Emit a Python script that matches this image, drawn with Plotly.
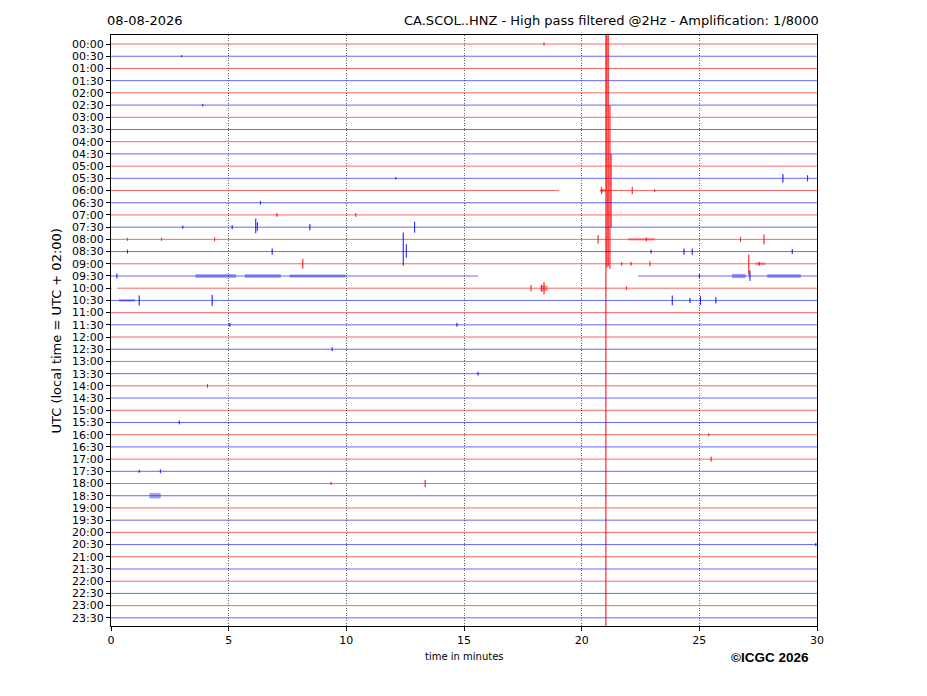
import plotly.graph_objects as go

# ---------------- data ----------------
row_labels = ["00:00", "00:30", "01:00", "01:30", "02:00", "02:30", "03:00", "03:30",
              "04:00", "04:30", "05:00", "05:30", "06:00", "06:30", "07:00", "07:30",
              "08:00", "08:30", "09:00", "09:30", "10:00", "10:30", "11:00", "11:30",
              "12:00", "12:30", "13:00", "13:30", "14:00", "14:30", "15:00", "15:30",
              "16:00", "16:30", "17:00", "17:30", "18:00", "18:30", "19:00", "19:30",
              "20:00", "20:30", "21:00", "21:30", "22:00", "22:30", "23:00", "23:30"]
x_ticks = [0, 5, 10, 15, 20, 25, 30]
minute_span = [0, 30]

# spikes: row index, minute, amplitude up, amplitude down (row-spacing units)
spike_rows =    [0,    1,    5,    11,    11,   11,   12,    12,    12,    12,   12,    12,    12,    12,   12,
                 13,   14,   14,   15,   15,   15,   15,   15,   15,
                 16,   16,   16,   16,   16,   16,   16,
                 17,   17,   17,   17,   17,   17,   17,   17,
                 18,   18,   18,   18,   18,   18,
                 19,   19,   19,
                 20,   20,   20,   20,
                 21,   21,   21,   21,   21,   21,
                 23,   23,   25,   27,   28,   31,   32,   34,   35,   35,   36,   36,   41]
spike_minutes = [18.4, 3.0,  3.9,  28.55, 29.6, 12.1, 20.85, 21.03,  21.07,  21.1, 21.13, 21.2, 21.25, 22.15, 23.1,
                 6.35, 7.05, 10.4, 6.15, 6.22, 12.9, 8.45, 5.15, 3.05,
                 0.7,  2.15, 4.4,  20.7, 22.75, 26.75, 27.75,
                 12.42, 12.55, 6.85, 0.7, 22.95, 24.35, 24.7, 28.95,
                 27.1, 8.15, 22.9, 22.1, 27.55, 21.7,
                 27.15, 0.25, 25.0,
                 18.4, 18.3, 17.85, 21.9,
                 1.2,  4.3,  23.85, 25.05, 24.6, 25.7,
                 5.05, 14.7, 9.4,  15.6, 4.1,  2.9,  25.4, 25.5, 1.2,  2.1,  13.35, 9.35, 29.95]
spike_up =      [0.12, 0.08, 0.1,  0.35,  0.25, 0.1,  0.3,   14.0,  14.0,  14.0,  13.0,  7.0,   3.0,   0.3,  0.12,
                 0.15, 0.15, 0.15, 0.7,  0.4,  0.45, 0.25, 0.15, 0.12,
                 0.12, 0.12, 0.15, 0.35, 0.15, 0.2,  0.4,
                 1.55, 0.6,  0.25, 0.15, 0.15, 0.25, 0.25, 0.2,
                 0.75, 0.4,  0.2,  0.15, 0.15, 0.15,
                 0.45, 0.2,  0.15,
                 0.5,  0.3,  0.25, 0.15,
                 0.4,  0.45, 0.4,  0.35, 0.2,  0.25,
                 0.15, 0.15, 0.15, 0.15, 0.15, 0.15, 0.12, 0.2,  0.12, 0.15, 0.3,  0.12, 0.12]
spike_down =    [0.12, 0.08, 0.1,  0.35,  0.25, 0.1,  0.3,   40.0,  6.3,   5.6,   6.2,   6.4,   3.0,   0.3,  0.12,
                 0.15, 0.15, 0.15, 0.5,  0.3,  0.45, 0.25, 0.15, 0.12,
                 0.12, 0.12, 0.15, 0.35, 0.15, 0.2,  0.4,
                 1.15, 0.5,  0.25, 0.15, 0.15, 0.25, 0.25, 0.2,
                 0.9,  0.4,  0.2,  0.15, 0.15, 0.15,
                 0.4,  0.2,  0.15,
                 0.5,  0.3,  0.25, 0.15,
                 0.4,  0.45, 0.4,  0.35, 0.2,  0.25,
                 0.15, 0.15, 0.15, 0.15, 0.15, 0.15, 0.12, 0.2,  0.12, 0.15, 0.3,  0.12, 0.12]

# bursts of noise: row index, start minute, end minute, half-amplitude
burst_rows =  [12,    16,   18,   19,   19,   19,   19,    19,   20,    21,   37]
burst_start = [20.8,  22.0, 27.4, 3.6,  5.7,  7.6,  26.4,  27.9, 18.25, 0.35, 1.65]
burst_end =   [21.0,  23.1, 27.8, 5.3,  7.2,  9.95, 26.95, 29.3, 18.55, 1.0,  2.1]
burst_amp =   [0.12,  0.07, 0.08, 0.12, 0.12, 0.1,  0.15,  0.12, 0.2,   0.07, 0.2]

# data gaps: row index, start minute, end minute
gap_rows =  [12,    19,   20]
gap_start = [19.04, 15.6, 0.05]
gap_end =   [20.78, 22.4, 0.25]

# ---------------- figure ----------------
RED = "rgba(255,0,0,0.6)"
BLUE = "rgba(0,0,255,0.6)"
RED_FILL = "rgba(255,0,0,0.35)"
BLUE_FILL = "rgba(0,0,255,0.35)"

fig = go.Figure()
for r in range(len(row_labels)):
    color = RED if r % 2 == 0 else BLUE
    feats = []
    for i in range(len(spike_rows)):
        if spike_rows[i] == r:
            feats.append((spike_minutes[i], 0, spike_up[i], spike_down[i]))
    for i in range(len(gap_rows)):
        if gap_rows[i] == r:
            feats.append((gap_start[i], 1, gap_end[i], 0))
    feats.sort()
    xs = [minute_span[0]]
    ys = [r]
    for t, kind, a, b in feats:
        if kind == 0:
            xs += [t, t, t, t]
            ys += [r, r - a, r + b, r]
        else:
            xs += [t, None, a]
            ys += [r, None, r]
    xs.append(minute_span[1])
    ys.append(r)
    fig.add_trace(go.Scatter(x=xs, y=ys, mode="lines",
                             line=dict(color=color, width=1),
                             hoverinfo="skip", showlegend=False))

for i in range(len(burst_rows)):
    r = burst_rows[i]
    fill = RED_FILL if r % 2 == 0 else BLUE_FILL
    fig.add_trace(go.Scatter(
        x=[burst_start[i], burst_end[i], burst_end[i], burst_start[i], burst_start[i]],
        y=[r - burst_amp[i], r - burst_amp[i], r + burst_amp[i], r + burst_amp[i], r - burst_amp[i]],
        mode="lines", fill="toself", fillcolor=fill,
        line=dict(color=fill, width=0.5), hoverinfo="skip", showlegend=False))

FONT = "DejaVu Sans"
fig.update_layout(
    width=927, height=696,
    margin=dict(l=103, r=118, t=27, b=78),
    paper_bgcolor="white", plot_bgcolor="white",
    font=dict(family=FONT, size=11, color="black"),
    xaxis=dict(range=minute_span, tickvals=x_ticks, ticks="outside", ticklen=4,
               tickcolor="black", showline=True, linecolor="black", linewidth=1,
               mirror=True, showgrid=True, gridcolor="rgba(60,60,60,0.8)",
               griddash="1px,1.5px", gridwidth=0.7, zeroline=False,
               tickfont=dict(size=11)),
    yaxis=dict(range=[47.67, -0.74], tickvals=list(range(len(row_labels))),
               ticktext=row_labels, ticks="outside", ticklen=4, tickcolor="black",
               showline=True, linecolor="black", linewidth=1, mirror=True,
               showgrid=False, zeroline=False, tickfont=dict(size=11)),
    annotations=[
        dict(text="08-08-2026", xref="paper", yref="paper", x=-0.009, y=1.0,
             xanchor="left", yanchor="bottom", yshift=5, showarrow=False,
             font=dict(size=13)),
        dict(text="CA.SCOL..HNZ - High pass filtered @2Hz - Amplification: 1/8000",
             xref="paper", yref="paper", x=1.006, y=1.0, xanchor="right",
             yanchor="bottom", yshift=5, showarrow=False, font=dict(size=13)),
        dict(text="UTC (local time = UTC + 02:00)", xref="paper", yref="paper",
             x=-0.0765, y=0.5, xanchor="center", yanchor="middle", textangle=-90,
             showarrow=False, font=dict(size=13)),
        dict(text="time in minutes", xref="paper", yref="paper", x=0.5, y=-0.0508,
             xanchor="center", yanchor="middle", showarrow=False, font=dict(size=10)),
        dict(text="<b>©ICGC 2026</b>", xref="paper", yref="paper", x=0.933, y=-0.054,
             xanchor="center", yanchor="middle", showarrow=False,
             font=dict(size=13.5, family="Liberation Sans")),
    ],
)

fig.write_html("out.html")
